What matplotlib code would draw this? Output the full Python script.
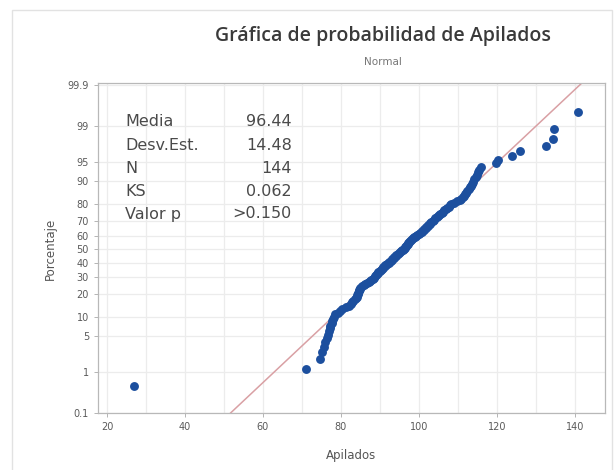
#!/usr/bin/env python

# python3

import matplotlib

matplotlib.use('Agg')

import matplotlib.pyplot as plt
import matplotlib.patches as mpatches
from statistics import NormalDist
import numpy as np

# Apilados, sorted (N = 144)
apilados = [
    27.0, 71.0, 74.6,
    75.2, 75.6, 76.0, 76.3, 76.6, 76.9, 77.1, 77.3, 77.6,
    77.8, 78.0, 78.3, 78.5,
    79.2, 79.8, 80.3,
    81.2, 82.0, 82.5,
    82.9, 83.2, 83.5, 83.8, 84.0,
    84.2, 84.3, 84.4, 84.5, 84.6, 84.8, 84.9,
    85.4, 85.8, 86.2, 86.6,
    87.2, 87.5, 87.8, 88.1, 88.4, 88.7, 89.0, 89.2, 89.4, 89.6,
    89.9, 90.2, 90.4, 90.7, 90.9, 91.2,
    91.4, 91.7, 91.9, 92.2, 92.4, 92.7, 93.0,
    93.2, 93.5, 93.7, 94.0, 94.2, 94.5, 94.8, 95.1, 95.5,
    95.7, 95.9, 96.1, 96.3, 96.5, 96.7, 96.9, 97.1, 97.3, 97.5, 97.7, 97.9, 98.1,
    98.4, 98.7, 99.0, 99.3, 99.6, 99.9, 100.3, 100.7,
    100.9, 101.2, 101.4, 101.7, 101.9, 102.2, 102.4, 102.7, 102.9, 103.2,
    103.5, 103.9, 104.2, 104.5, 104.8, 105.1, 105.4, 105.8,
    106.2, 106.5, 106.9, 107.2, 107.6, 107.9, 108.3,
    109.0, 109.7, 110.4, 110.9,
    111.2, 111.5, 111.8, 112.1, 112.4, 112.7, 113.0, 113.3,
    113.6, 113.9, 114.2, 114.5, 114.8, 115.1, 115.4, 115.9,
    119.8, 120.2, 123.8, 125.9, 132.5, 134.3, 134.5, 140.7,
]

media = 96.44
desv_est = 14.48
n_obs = 144
ks = 0.062
valor_p = '>0.150'

pct_ticks = [0.1, 1, 5, 10, 20, 30, 40, 50, 60, 70, 80, 90, 95, 99, 99.9]
pct_labels = ['0.1', '1', '5', '10', '20', '30', '40', '50', '60', '70',
              '80', '90', '95', '99', '99.9']
x_ticks = [20, 40, 60, 80, 100, 120, 140]

POINT_COLOR = '#1c4f9e'
LINE_COLOR = '#d9a0a4'
GRID_COLOR = '#ececec'
TEXT_COLOR = '#4a4a4a'

nd = NormalDist()


def zscore(p):
    return nd.inv_cdf(p)


def main():
    plt.rcParams['font.family'] = ['DejaVu Sans']

    fig = plt.figure(figsize=(6.14, 4.70), dpi=100)
    fig.patch.set_facecolor('white')

    # faint frame round the graph region
    fig.patches.append(mpatches.Rectangle(
        (12 / 614, -0.02), 600 / 614, 1 - 10 / 470 + 0.02,
        transform=fig.transFigure, fill=False, edgecolor='#e2e2e2', lw=1.0))

    ax = fig.add_axes([98 / 614, 1 - 413 / 470, 507 / 614, 330 / 470])

    x = np.array(apilados)
    n = len(x)
    ranks = np.arange(1, n + 1)
    # Benard median ranks
    probs = (ranks - 0.3) / (n + 0.4)
    z = np.array([zscore(p) for p in probs])

    ylo = zscore(0.001)
    yhi = zscore(0.999) + 0.04
    ax.set_xlim(17.7, 147.7)
    ax.set_ylim(ylo, yhi)

    # grid
    for gx in range(20, 150, 10):
        ax.axvline(gx, color=GRID_COLOR, lw=0.9, zorder=0)
    for p in pct_ticks:
        ax.axhline(zscore(p / 100), color=GRID_COLOR, lw=0.9, zorder=0)

    # fitted normal line
    zl = np.array([ylo - 0.2, yhi + 0.2])
    ax.plot(media + desv_est * zl, zl, color=LINE_COLOR, lw=1.1, zorder=2)

    ax.plot(x, z, 'o', color=POINT_COLOR, markersize=6.4,
            markeredgewidth=0, zorder=3)

    ax.set_yticks([zscore(p / 100) for p in pct_ticks])
    ax.set_yticklabels(pct_labels)
    ax.set_xticks(x_ticks)
    ax.tick_params(axis='both', labelsize=7, colors='#a8a8a8',
                   labelcolor='#5a5a5a', length=3, width=0.6)

    for s in ax.spines.values():
        s.set_color('#b8b8b8')
        s.set_linewidth(0.9)

    fig.text(50 / 614, 1 - 249 / 470, 'Porcentaje', rotation=90,
             ha='center', va='center', fontsize=8.5, color='#555555')
    fig.text(351 / 614, 1 - 455 / 470, 'Apilados',
             ha='center', va='center', fontsize=8.5, color='#555555')

    fig.text(383 / 614, 1 - 36 / 470, 'Gráfica de probabilidad de Apilados',
             ha='center', va='center', fontsize=14, fontweight='semibold',
             family=['Open Sans', 'DejaVu Sans'], color='#3a3a3a')
    fig.text(383 / 614, 1 - 62 / 470, 'Normal', ha='center', va='center',
             fontsize=7.5, color='#777777')

    # summary statistics box
    rows = [('Media', '{:.2f}'.format(media)),
            ('Desv.Est.', '{:.2f}'.format(desv_est)),
            ('N', '{}'.format(n_obs)),
            ('KS', '{:.3f}'.format(ks)),
            ('Valor p', valor_p)]
    for k, (name, val) in enumerate(rows):
        ty = 1 - (122 + k * 23) / 470
        fig.text(125 / 614, ty, name, ha='left', va='center',
                 fontsize=11.5, family='DejaVu Sans', color=TEXT_COLOR)
        fig.text(292 / 614, ty, val, ha='right', va='center',
                 fontsize=11.5, family='DejaVu Sans', color=TEXT_COLOR)

    plt.savefig('out.png', dpi=100)


if __name__ == "__main__":
    main()
